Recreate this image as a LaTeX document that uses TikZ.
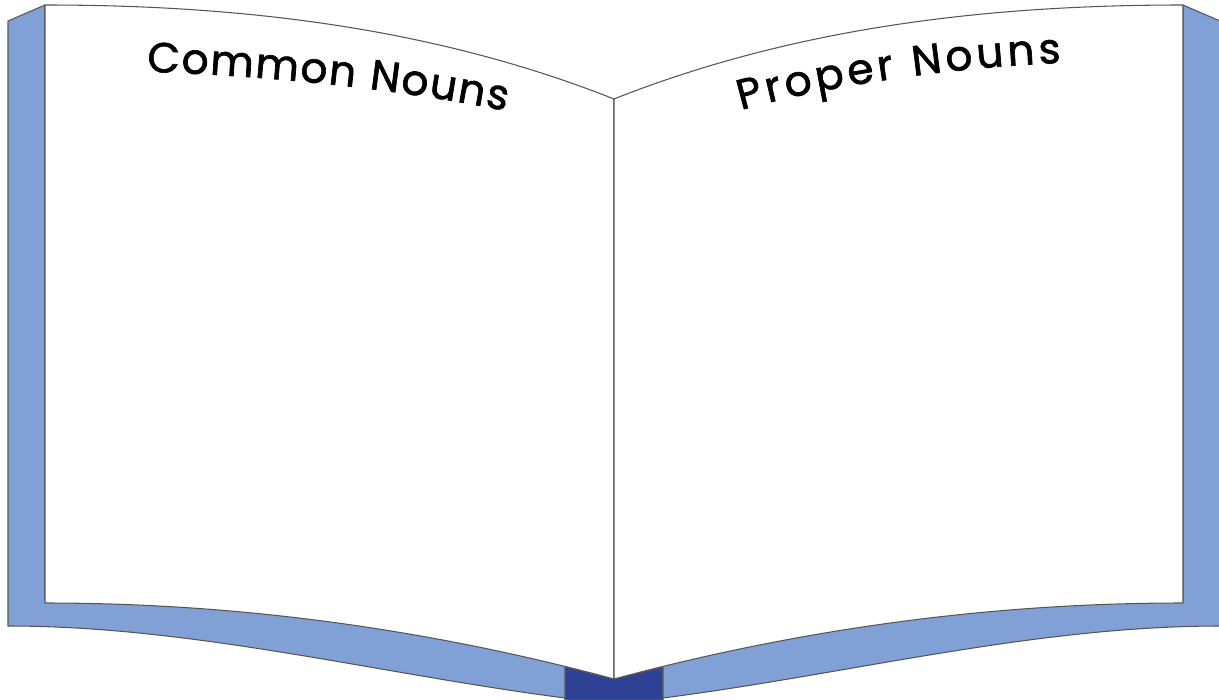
\documentclass[tikz,border=0pt]{standalone}
\usepackage{fontspec}
\usepackage{tikz}
\usetikzlibrary{decorations.text}
\newfontfamily\bookfont[FakeBold=1.6]{Poppins}
\definecolor{coverblue}{RGB}{128, 160, 214}
\definecolor{spinenavy}{RGB}{47, 65, 149}
\definecolor{edgegray}{RGB}{85, 85, 85}

\begin{document}
\begin{tikzpicture}[x=0.02cm, y=-0.02cm,
    cover/.style={fill=coverblue, draw=edgegray, line width=0.6pt, line join=round},
    page/.style={fill=white, draw=edgegray, line width=0.6pt, line join=round},
    title/.style={decorate, decoration={text along path, text align=fit to path,
        text={|\bookfont\fontsize{24}{28}\selectfont|#1}}}]
                \useasboundingbox (0,0) rectangle (1219,699);
                
                % Spine (visible part below the pages)
                \fill[spinenavy, draw=edgegray, line width=0.6pt] (565,667) -- (614,679) -- (663,667) -- (663,700) -- (565,700) -- cycle;
                
                % Left cover
                \draw[cover] (8,21) -- (45,5) -- (45,600) -- (565,600) -- (565,698)
                    .. controls (379,674) and (194,626) .. (8,626) -- cycle;
                
                % Right cover
                \draw[cover] (1220,21) -- (1183,5) -- (1183,600) -- (663,600) -- (663,698)
                    .. controls (849,674) and (1034,626) .. (1220,626) -- cycle;
                
                % Left page
                \draw[page] (45,5) .. controls (235,5) and (430,26) .. (614,99)
                    -- (614,679) .. controls (424,628) and (235,603) .. (45,603) -- cycle;
                
                % Right page
                \draw[page] (1183,5) .. controls (993,5) and (798,26) .. (614,99)
                    -- (614,679) .. controls (804,628) and (993,603) .. (1183,603) -- cycle;
                
                % Page titles
                \path[title={Common Nouns}] (147,72) .. controls (262,75) and (400,89) .. (506,111);
                \path[title={Proper Nouns}] (741,110) .. controls (822,87) and (950,67) .. (1061,63);
            \end{tikzpicture}
\end{document}
